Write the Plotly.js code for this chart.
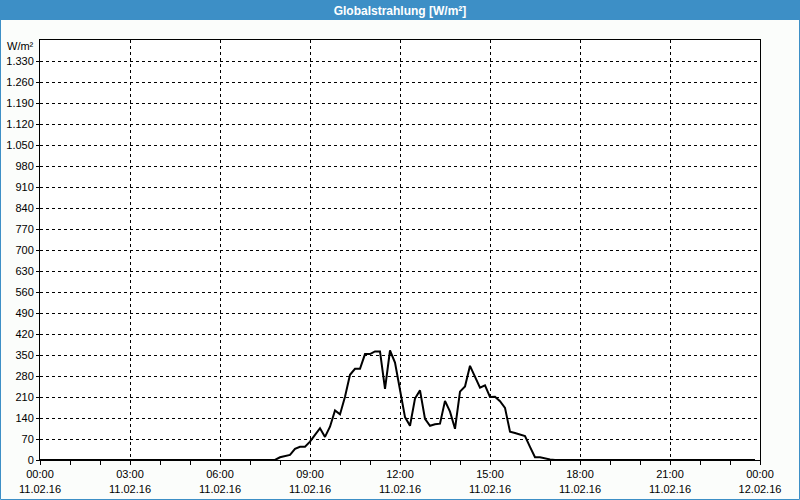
<!DOCTYPE html>
<html>
<head>
<meta charset="utf-8">
<script src="https://cdn.plot.ly/plotly-3.0.1.min.js"></script>
<style>
html,body{margin:0;padding:0;background:#fbfdfb;}
#chart{width:800px;height:500px;}
</style>
</head>
<body>
<div id="chart"></div>
<script>
// 10-minute readings, 11.02.16 00:00 .. 23:50
const seriesStart = '2016-02-11 00:00';
const stepMs = 600000;
const radiation = [
  0,0,0,0,0,0,   0,0,0,0,0,0,   0,0,0,0,0,0,   0,0,0,0,0,0,   // 00-03
  0,0,0,0,0,0,   0,0,0,0,0,0,   0,0,0,0,0,0,   0,0,0,0,0,0,   // 04-07
  9,13,17,37,44,44,          // 08
  61,84,106,77,111,165,      // 09
  152,211,284,304,304,353,   // 10
  353,362,362,237,365,325,   // 11
  235,143,114,205,232,137,   // 12
  114,119,121,197,161,104,   // 13
  228,245,314,276,241,249,   // 14
  210,211,196,174,94,90,     // 15
  85,80,44,9,9,5,            // 16
  2,0,0,0,0,0,               // 17
  0,0,0,0,0,0,   0,0,0,0,0,0,   0,0,0,0,0,0,   // 18-20
  0,0,0,0,0,0,   0,0,0,0,0,0,   0,0,0,0,0,0    // 21-23
];

const xTickVals = ['2016-02-11 00:00','2016-02-11 03:00','2016-02-11 06:00','2016-02-11 09:00',
  '2016-02-11 12:00','2016-02-11 15:00','2016-02-11 18:00','2016-02-11 21:00','2016-02-12 00:00'];
const xTickText = ['00:00<br>11.02.16','03:00<br>11.02.16','06:00<br>11.02.16','09:00<br>11.02.16',
  '12:00<br>11.02.16','15:00<br>11.02.16','18:00<br>11.02.16','21:00<br>11.02.16','00:00<br>12.02.16'];
const yTickVals = [0,70,140,210,280,350,420,490,560,630,700,770,840,910,980,1050,1120,1190,1260,1330];
const yTickText = ['0','70','140','210','280','350','420','490','560','630','700','770','840','910','980',
  '1.050','1.120','1.190','1.260','1.330'];
const titleText = 'Globalstrahlung [W/m²]';
const unitText = 'W/m²';

const blue = '#3d8fc6';
const font = {family: '"Liberation Sans", Arial, sans-serif', size: 11, color: '#000'};

const trace = {
  type: 'scatter', mode: 'lines',
  x0: seriesStart, dx: stepMs, y: radiation,
  line: {color: '#000', width: 2},
  hoverinfo: 'skip'
};

// paper coordinates spanning the full 800x500 figure (plot area is 40..760 x 40..460)
const px = v => (v - 40) / 720;
const py = v => (460 - v) / 420;

const layout = {
  width: 800, height: 500,
  margin: {l: 40, r: 40, t: 40, b: 40},
  paper_bgcolor: '#fbfdfb',
  plot_bgcolor: '#ffffff',
  font: font,
  showlegend: false,
  hovermode: false,
  title: {
    text: '<b>' + titleText + '</b>',
    font: {family: '"Liberation Sans", Arial, sans-serif', size: 12, color: '#ffffff'},
    x: 0.5, xanchor: 'center', xref: 'container',
    y: 1 - 10.5 / 500, yanchor: 'middle', yref: 'container'
  },
  xaxis: {
    type: 'date',
    range: ['2016-02-11 00:00', '2016-02-12 00:00'],
    tickmode: 'array', tickvals: xTickVals, ticktext: xTickText,
    ticks: 'outside', ticklen: 4, tickcolor: '#000', tickwidth: 1,
    minor: {tickmode: 'linear', tick0: '2016-02-11 00:00', dtick: 3600000,
            ticks: 'outside', ticklen: 4, tickcolor: '#000', showgrid: false},
    showgrid: true, gridcolor: '#000', gridwidth: 1, griddash: '3px,3px',
    showline: true, linecolor: '#000', linewidth: 1, mirror: true,
    zeroline: false, fixedrange: true,
    tickfont: font
  },
  yaxis: {
    range: [0, 1400],
    tickmode: 'array', tickvals: yTickVals, ticktext: yTickText,
    ticks: 'outside', ticklen: 3, tickcolor: '#000',
    showgrid: true, gridcolor: '#000', gridwidth: 1, griddash: '3px,3px',
    showline: true, linecolor: '#000', linewidth: 1, mirror: true,
    zeroline: false, fixedrange: true,
    tickfont: font
  },
  annotations: [{
    text: unitText, xref: 'paper', yref: 'paper', x: 0, y: 1,
    xanchor: 'right', yanchor: 'middle', xshift: -4, yshift: -6,
    showarrow: false, font: font
  }],
  shapes: [
    {type: 'rect', xref: 'paper', yref: 'paper', layer: 'below',
     x0: px(0), x1: px(800), y0: py(20), y1: py(0),
     fillcolor: blue, line: {width: 0}},
    {type: 'rect', xref: 'paper', yref: 'paper', layer: 'below',
     x0: px(0.5), x1: px(799.5), y0: py(499.5), y1: py(0.5),
     fillcolor: 'rgba(0,0,0,0)', line: {color: blue, width: 1}}
  ]
};

Plotly.newPlot('chart', [trace], layout, {displayModeBar: false, staticPlot: true});
</script>
</body>
</html>
